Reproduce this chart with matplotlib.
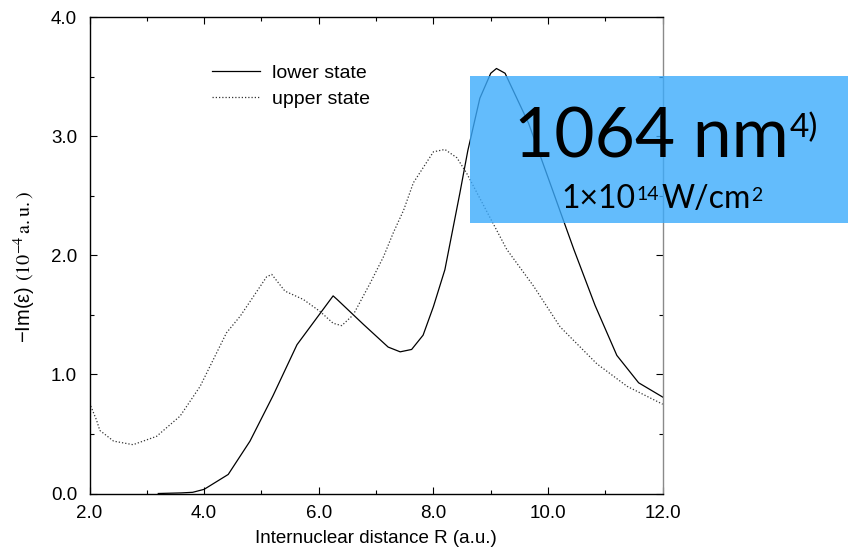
import matplotlib
matplotlib.use("Agg")
import matplotlib.pyplot as plt
from matplotlib.patches import Rectangle

# data
r_lower = [3.2, 3.6, 3.8, 4.0, 4.42, 4.8, 5.2, 5.62, 6.25, 6.32, 6.78, 7.21, 7.42,
           7.62, 7.82, 8.0, 8.2, 8.46, 8.6, 8.81, 9.0, 9.1, 9.25, 9.66, 10.45,
           10.82, 11.2, 11.58, 12.0]
im_lower = [0.0, 0.005, 0.01, 0.035, 0.16, 0.44, 0.82, 1.25, 1.66, 1.63, 1.42, 1.23, 1.19,
            1.21, 1.33, 1.57, 1.88, 2.52, 2.88, 3.32, 3.53, 3.57, 3.53, 3.11, 2.05,
            1.58, 1.16, 0.93, 0.81]

r_upper = [2.0, 2.12, 2.18, 2.42, 2.76, 3.17, 3.58, 3.93, 4.39, 4.63, 5.09, 5.18, 5.41,
           5.73, 6.02, 6.25, 6.40, 6.60, 6.9, 7.13, 7.3, 7.48, 7.65, 8.0, 8.2, 8.41,
           8.58, 9.28, 9.75, 10.21, 10.85, 11.38, 12.0]
im_upper = [0.76, 0.62, 0.53, 0.44, 0.41, 0.48, 0.65, 0.90, 1.35, 1.49, 1.82, 1.84, 1.70,
            1.63, 1.53, 1.43, 1.41, 1.50, 1.77, 1.99, 2.19, 2.38, 2.61, 2.87, 2.89, 2.82,
            2.69, 2.05, 1.74, 1.40, 1.09, 0.90, 0.75]

series_labels = ["lower state", "upper state"]
x_ticks = [2.0, 4.0, 6.0, 8.0, 10.0, 12.0]
y_ticks = [0.0, 1.0, 2.0, 3.0, 4.0]

W, H = 848, 551
plt.rcParams["font.family"] = ["Liberation Sans", "DejaVu Sans"]
plt.rcParams["mathtext.fontset"] = "stix"
BOX_FONT = ["Lato", "DejaVu Sans"]

fig = plt.figure(figsize=(W / 100, H / 100), dpi=100, facecolor="white")
ax = fig.add_axes([89.5 / W, 1 - 493.5 / H, (662.7 - 89.5) / W, (493.5 - 17.3) / H])

ax.plot(r_lower, im_lower, color="black", lw=0.9, label=series_labels[0])
ax.plot(r_upper, im_upper, color="#333333", lw=0.9, ls=(0, (1, 1.6)), label=series_labels[1])

ax.set_xlim(2.0, 12.0)
ax.set_ylim(0.0, 4.0)
ax.set_xticks(x_ticks)
ax.set_xticklabels([f"{v:.1f}" for v in x_ticks])
ax.set_xticks([3, 5, 7, 9, 11], minor=True)
ax.set_yticks(y_ticks)
ax.set_yticklabels([f"{v:.1f}" for v in y_ticks])
ax.set_yticks([0.5, 1.5, 2.5, 3.5], minor=True)
ax.tick_params(which="both", direction="in", top=True, right=True, width=0.8, labelsize=13.5)
ax.tick_params(which="major", length=5)
ax.tick_params(which="minor", length=3)
ax.tick_params(axis="x", pad=8)
ax.tick_params(axis="y", pad=9)
for s in ax.spines.values():
    s.set_linewidth(1.0)
ax.spines["right"].set_color("#8a8a8a")

ax.set_xlabel("Internuclear distance R (a.u.)", fontsize=13.5, labelpad=6)
ax.set_ylabel("\u2212Im(\u03b5) " + r"$\mathrm{(10^{-4}\,a.u.)}$", fontsize=14.5)
ax.yaxis.set_label_coords(-0.09, 0.475)

ax.legend(loc="upper left", bbox_to_anchor=(0.197, 0.921), frameon=False, fontsize=14,
          handlelength=2.47, handletextpad=0.62, labelspacing=0.4, borderpad=0)

# blue overlay box
fig.patches.append(Rectangle((470 / W, 1 - 223 / H), 378 / W, 147 / H,
                             transform=fig.transFigure, facecolor="#3cabfc",
                             alpha=0.8, edgecolor="none", zorder=5))


def place_line(pieces, x_center, baseline):
    """pieces: (text, fontsize, rise_px, gap_px_before); laid out left to right, centred."""
    renderer = fig.canvas.get_renderer()
    items = []
    for txt, size, rise, gap in pieces:
        t = fig.text(0, 0, txt, ha="left", va="baseline", fontsize=size,
                     family=BOX_FONT, zorder=6)
        w = t.get_window_extent(renderer).width
        items.append((t, w, rise, gap))
    total = sum(w + gap for _, w, _, gap in items)
    x = x_center - total / 2
    for t, w, rise, gap in items:
        x += gap
        t.set_position((x / W, 1 - (baseline - rise) / H))
        x += w


place_line([("1064 nm", 50, 0, 0), ("4)", 24, 20, 0)], 666, 157)
place_line([("1\u00d710", 23, 0, 0), ("14", 14, 8, 0), ("W/cm", 23, 0, 3), ("2", 14, 7, 0)],
           662, 208)

fig.savefig("out.png", dpi=100, facecolor="white")
